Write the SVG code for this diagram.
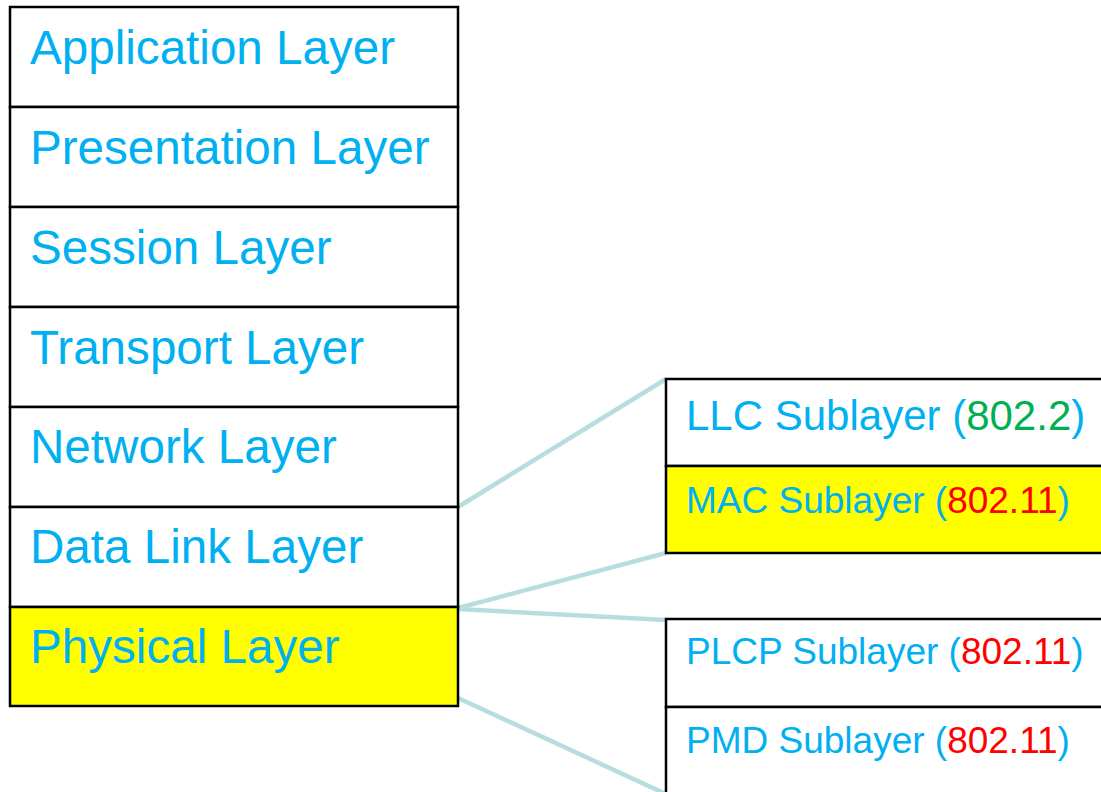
<svg xmlns="http://www.w3.org/2000/svg" width="1101" height="792" viewBox="0 0 1101 792">
<style>
.box{fill:#ffffff;stroke:#000000;stroke-width:2.5}
.hl{fill:#ffff00}
.t{font-family:"Liberation Sans",Arial,sans-serif;fill:#00b0f0}
.big{font-size:47.6px}
.mid{font-size:42px}
.sm{font-size:37px}
.g{fill:#00b050}
.r{fill:#ff0000}
.conn{stroke:#b7dde0;stroke-width:4.5;fill:none}
</style>
<rect width="1101" height="792" fill="#ffffff"/>
<g id="connectors">
<line class="conn" x1="458" y1="507" x2="666" y2="379"/>
<line class="conn" x1="458" y1="608" x2="666" y2="553"/>
<line class="conn" x1="458" y1="609" x2="666" y2="620"/>
<line class="conn" x1="458" y1="698" x2="668" y2="795"/>
</g>
<g id="application"><rect class="box" x="10" y="7" width="448" height="100"/><text class="t big" x="30" y="64">Application Layer</text></g>
<g id="presentation"><rect class="box" x="10" y="107" width="448" height="100"/><text class="t big" x="30" y="164">Presentation Layer</text></g>
<g id="session"><rect class="box" x="10" y="207" width="448" height="100"/><text class="t big" x="30" y="264">Session Layer</text></g>
<g id="transport"><rect class="box" x="10" y="307" width="448" height="100"/><text class="t big" x="30" y="364">Transport Layer</text></g>
<g id="network"><rect class="box" x="10" y="407" width="448" height="100"/><text class="t big" x="30" y="463">Network Layer</text></g>
<g id="datalink"><rect class="box" x="10" y="507" width="448" height="100"/><text class="t big" x="30" y="563">Data Link Layer</text></g>
<g id="physical"><rect class="box hl" x="10" y="607" width="448" height="99"/><text class="t big" x="30" y="663">Physical Layer</text></g>
<g id="llc"><rect class="box" x="666" y="379" width="450" height="87"/><text class="t mid" x="686" y="430">LLC Sublayer (<tspan class="g">802.2</tspan>)</text></g>
<g id="mac"><rect class="box hl" x="666" y="466" width="450" height="87"/><text class="t sm" x="686" y="513">MAC Sublayer (<tspan class="r">802.11</tspan>)</text></g>
<g id="plcp"><rect class="box" x="666" y="619" width="450" height="88"/><text class="t sm" x="686" y="664">PLCP Sublayer (<tspan class="r">802.11</tspan>)</text></g>
<g id="pmd"><rect class="box" x="666" y="707" width="450" height="100"/><text class="t sm" x="686" y="753">PMD Sublayer (<tspan class="r">802.11</tspan>)</text></g>
</svg>
